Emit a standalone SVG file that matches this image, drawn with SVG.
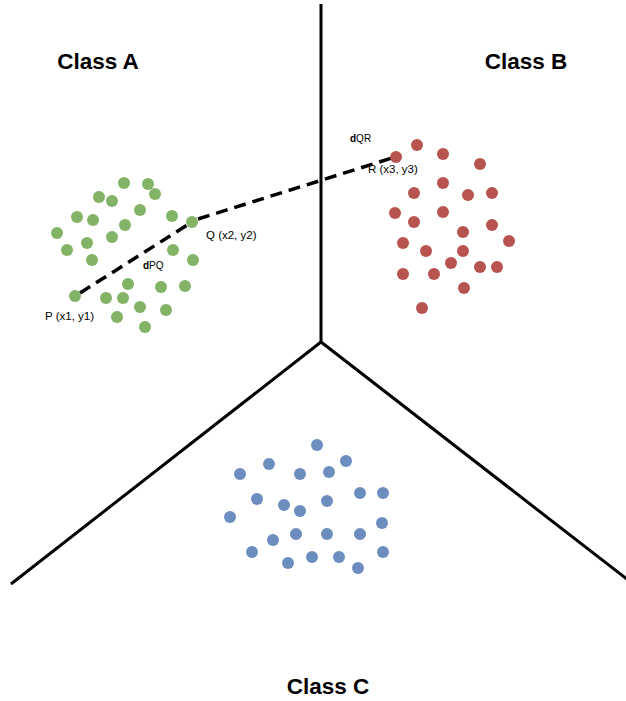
<svg xmlns="http://www.w3.org/2000/svg" width="626" height="701" viewBox="0 0 626 701">
<style>
.bg{fill:#ffffff}
.boundary{stroke:#000;stroke-width:3;fill:none}
.dist{stroke:#000;stroke-width:3.5;fill:none;stroke-dasharray:12 7}
.g circle{fill:#82b366}
.r circle{fill:#b85450}
.b circle{fill:#6c8ebf}
.title{font-family:"Liberation Sans",Arial,sans-serif;font-size:22.5px;font-weight:bold;fill:#000}
.lbl{font-family:"Liberation Sans",Arial,sans-serif;font-size:11.5px;fill:#000}
.dl{font-family:"Liberation Sans",Arial,sans-serif;font-size:10px;fill:#000}
</style>
<rect class="bg" x="0" y="0" width="626" height="701"/>
<g id="boundaries">
<polyline class="boundary" points="321,4 321,342"/>
<polyline class="boundary" points="11,584 321,342 628,580"/>
</g>
<g id="classA" class="g">
<circle cx="124" cy="183" r="6"/><circle cx="148" cy="184" r="6"/><circle cx="155" cy="194" r="6"/>
<circle cx="99" cy="197" r="6"/><circle cx="112" cy="201" r="6"/><circle cx="140" cy="210" r="6"/>
<circle cx="77" cy="217" r="6"/><circle cx="93" cy="220" r="6"/><circle cx="172" cy="216" r="6"/>
<circle cx="125" cy="225" r="6"/><circle cx="57" cy="233" r="6"/><circle cx="87" cy="243" r="6"/>
<circle cx="112" cy="237" r="6"/><circle cx="67" cy="250" r="6"/><circle cx="173" cy="250" r="6"/>
<circle cx="92" cy="260" r="6"/><circle cx="193" cy="260" r="6"/><circle cx="128" cy="284" r="6"/>
<circle cx="161" cy="287" r="6"/><circle cx="185" cy="286" r="6"/><circle cx="106" cy="298" r="6"/>
<circle cx="123" cy="298" r="6"/><circle cx="140" cy="307" r="6"/><circle cx="166" cy="310" r="6"/>
<circle cx="117" cy="317" r="6"/><circle cx="145" cy="327" r="6"/>
</g>
<g id="classB" class="r">
<circle cx="417" cy="145" r="6"/><circle cx="443" cy="154" r="6"/><circle cx="480" cy="164" r="6"/>
<circle cx="443" cy="183" r="6"/><circle cx="414" cy="193" r="6"/><circle cx="468" cy="195" r="6"/>
<circle cx="492" cy="193" r="6"/><circle cx="395" cy="213" r="6"/><circle cx="443" cy="212" r="6"/>
<circle cx="414" cy="222" r="6"/><circle cx="492" cy="225" r="6"/><circle cx="463" cy="232" r="6"/>
<circle cx="509" cy="241" r="6"/><circle cx="403" cy="243" r="6"/><circle cx="426" cy="251" r="6"/>
<circle cx="463" cy="251" r="6"/><circle cx="451" cy="263" r="6"/><circle cx="480" cy="267" r="6"/>
<circle cx="497" cy="267" r="6"/><circle cx="403" cy="274" r="6"/><circle cx="434" cy="274" r="6"/>
<circle cx="464" cy="288" r="6"/><circle cx="422" cy="308" r="6"/>
</g>
<g id="classC" class="b">
<circle cx="317" cy="445" r="6"/><circle cx="346" cy="461" r="6"/><circle cx="269" cy="464" r="6"/>
<circle cx="240" cy="474" r="6"/><circle cx="300" cy="474" r="6"/><circle cx="329" cy="472" r="6"/>
<circle cx="360" cy="493" r="6"/><circle cx="383" cy="493" r="6"/><circle cx="257" cy="499" r="6"/>
<circle cx="284" cy="505" r="6"/><circle cx="300" cy="511" r="6"/><circle cx="327" cy="501" r="6"/>
<circle cx="230" cy="517" r="6"/><circle cx="382" cy="523" r="6"/><circle cx="273" cy="540" r="6"/>
<circle cx="296" cy="534" r="6"/><circle cx="327" cy="534" r="6"/><circle cx="360" cy="534" r="6"/>
<circle cx="252" cy="552" r="6"/><circle cx="383" cy="552" r="6"/><circle cx="312" cy="557" r="6"/>
<circle cx="339" cy="557" r="6"/><circle cx="288" cy="563" r="6"/><circle cx="358" cy="568" r="6"/>
</g>
<g id="connectors">
<polyline class="dist" points="80,293 192,222"/>
<polyline class="dist" points="198,219 392,158"/>
</g>
<g id="P"><circle cx="75" cy="296" r="6" fill="#82b366"/><text class="lbl" x="45" y="320">P (x1, y1)</text></g>
<g id="Q"><circle cx="192" cy="222" r="6" fill="#82b366"/><text class="lbl" x="206" y="239">Q (x2, y2)</text></g>
<g id="R"><circle cx="396" cy="157" r="6" fill="#b85450"/><text class="lbl" x="368" y="173">R (x3, y3)</text></g>
<text class="dl" x="143" y="269"><tspan font-weight="bold">d</tspan>PQ</text>
<text class="dl" x="350" y="142"><tspan font-weight="bold">d</tspan>QR</text>
<text class="title" x="98" y="69" text-anchor="middle">Class A</text>
<text class="title" x="526" y="69" text-anchor="middle">Class B</text>
<text class="title" x="328" y="694" text-anchor="middle">Class C</text>
</svg>
